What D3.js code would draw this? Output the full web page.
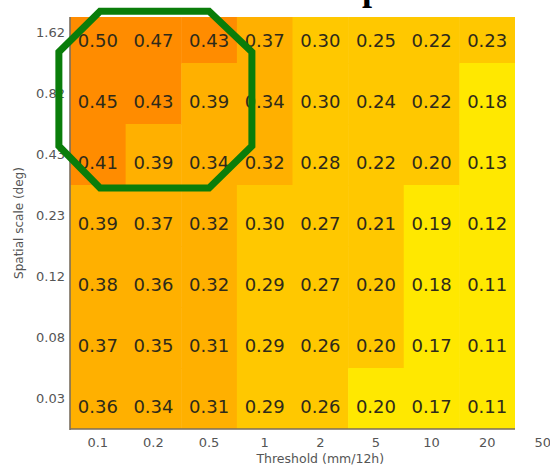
<!DOCTYPE html>
<html><head><meta charset="utf-8">
<script src="https://cdn.jsdelivr.net/npm/d3@7"></script>
<style>body{margin:0;background:#fff}svg{display:block}</style>
</head><body><svg id="c" width="550" height="467"></svg>
<script>
// Data
const thresholds = ["0.1","0.2","0.5","1","2","5","10","20","50"];
const spatialScales = ["1.62","0.82","0.43","0.23","0.12","0.08","0.03"];
const row162 = [0.50,0.47,0.43,0.37,0.30,0.25,0.22,0.23];
const row082 = [0.45,0.43,0.39,0.34,0.30,0.24,0.22,0.18];
const row043 = [0.41,0.39,0.34,0.32,0.28,0.22,0.20,0.13];
const row023 = [0.39,0.37,0.32,0.30,0.27,0.21,0.19,0.12];
const row012 = [0.38,0.36,0.32,0.29,0.27,0.20,0.18,0.11];
const row008 = [0.37,0.35,0.31,0.29,0.26,0.20,0.17,0.11];
const row003 = [0.36,0.34,0.31,0.29,0.26,0.198,0.17,0.11];
const values = [row162,row082,row043,row023,row012,row008,row003];
const binEdges = [0.2, 0.305, 0.4];
const binColors = ["#ffe800","#ffc800","#ffb000","#ff8c00"];
// highlighted region (in column / row units)
const highlight = [[0.54,0.15],[2.5,0.15],[3.27,0.82],[3.27,2.36],[2.5,3.05],[0.54,3.05],[-0.2,2.36],[-0.2,0.82]];

(function(){
const svg = d3.select("#c");
const colW = 55.625;
const mLeft = 70, mTop = 2, mBottom = 429, visTop = 17;
const x = d3.scaleBand().domain(thresholds).range([mLeft, mLeft + colW*thresholds.length]).padding(0);
const y = d3.scaleBand().domain(spatialScales).range([mTop, mBottom]).padding(0);
const color = d3.scaleThreshold().domain(binEdges).range(binColors);
const nCols = row162.length;
const plotRight = mLeft + colW*nCols;

svg.append("defs").append("clipPath").attr("id","clip")
  .append("rect").attr("x",mLeft).attr("y",visTop).attr("width",plotRight-mLeft).attr("height",mBottom-visTop);

const cells = [];
values.forEach((row,i)=>row.forEach((v,j)=>cells.push({r:spatialScales[i], c:thresholds[j], v})));

const g = svg.append("g").attr("clip-path","url(#clip)");
g.selectAll("rect").data(cells).join("rect")
  .attr("x",d=>x(d.c)).attr("y",d=>y(d.r))
  .attr("width",x.bandwidth()+0.5).attr("height",y.bandwidth()+0.5)
  .attr("fill",d=>color(d.v));
g.selectAll("text").data(cells).join("text")
  .attr("x",d=>x(d.c)+x.bandwidth()/2)
  .attr("y",d=>y(d.r)+y.bandwidth()/2+14)
  .attr("text-anchor","middle")
  .attr("font-family","DejaVu Sans")
  .attr("font-size",18)
  .attr("fill","#2e2a1a")
  .text(d=>d3.format(".2f")(d.v));

// axes
const ax = svg.append("g").attr("transform",`translate(0,${mBottom})`)
  .call(d3.axisBottom(x).tickSize(0).tickPadding(9));
ax.select(".domain").remove();
ax.selectAll("text").attr("font-family","DejaVu Sans").attr("font-size",13).attr("fill","#555");

const ay = svg.append("g").attr("transform",`translate(${mLeft},0)`)
  .call(d3.axisLeft(y).tickSize(0).tickPadding(5));
ay.select(".domain").remove();
ay.selectAll("text").attr("font-family","DejaVu Sans").attr("font-size",13).attr("fill","#555");

svg.append("line").attr("x1",mLeft).attr("x2",mLeft).attr("y1",visTop).attr("y2",mBottom+1)
  .attr("stroke","#7a6e5e").attr("stroke-width",1.6);
svg.append("line").attr("x1",mLeft).attr("x2",plotRight).attr("y1",mBottom).attr("y2",mBottom)
  .attr("stroke","#7a6e5e").attr("stroke-width",1.6);

svg.append("text").attr("x",(x.range()[0]+x.range()[1])/2).attr("y",463)
  .attr("text-anchor","middle").attr("font-family","DejaVu Sans").attr("font-size",12.5)
  .attr("fill","#555").text("Threshold (mm/12h)");
svg.append("text").attr("transform",`translate(23,${(visTop+mBottom)/2}) rotate(-90)`)
  .attr("text-anchor","middle").attr("font-family","DejaVu Sans").attr("font-size",12)
  .attr("fill","#555").text("Spatial scale (deg)");

// highlight octagon
const ux = d3.scaleLinear().domain([0,thresholds.length]).range(x.range());
const uy = d3.scaleLinear().domain([0,spatialScales.length]).range(y.range());
svg.append("path")
  .attr("d", d3.line().x(d=>ux(d[0])).y(d=>uy(d[1])).curve(d3.curveLinearClosed)(highlight))
  .attr("fill","none").attr("stroke","#0a7d0a").attr("stroke-width",7).attr("stroke-linejoin","miter");

// cropped title fragment
svg.append("text").attr("x",362).attr("y",0).attr("font-family","Liberation Serif")
  .attr("font-weight","bold").attr("font-size",36).attr("fill","#000").text("p");
})();
</script></body></html>
